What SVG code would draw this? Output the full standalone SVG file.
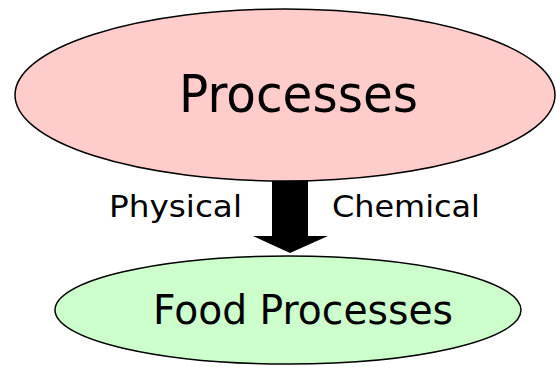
<svg xmlns="http://www.w3.org/2000/svg" width="556" height="367" viewBox="0 0 556 367">
<style>
.t{font-family:"DejaVu Sans","Liberation Sans",sans-serif;fill:#000}
.e{stroke:#000;stroke-width:1.5}
</style>
<rect width="556" height="367" fill="#fff"/>
<g id="processes">
<ellipse class="e" cx="285" cy="95" rx="270" ry="86" fill="#ffcccc"/>
<text class="t" x="179" y="112" font-size="52" textLength="239" lengthAdjust="spacingAndGlyphs">Processes</text>
</g>
<g id="food">
<ellipse class="e" cx="288" cy="310" rx="233" ry="54" fill="#ccffcc"/>
<text class="t" x="153" y="324" font-size="40" textLength="300" lengthAdjust="spacingAndGlyphs">Food Processes</text>
</g>
<g id="connectors">
<polygon points="272,181 308,181 308,236 328,236 290,253 253,236 272,236" fill="#000"/>
<text class="t" x="109" y="217" font-size="30" textLength="133" lengthAdjust="spacingAndGlyphs">Physical</text>
<text class="t" x="332" y="217" font-size="30" textLength="148" lengthAdjust="spacingAndGlyphs">Chemical</text>
</g>
</svg>
